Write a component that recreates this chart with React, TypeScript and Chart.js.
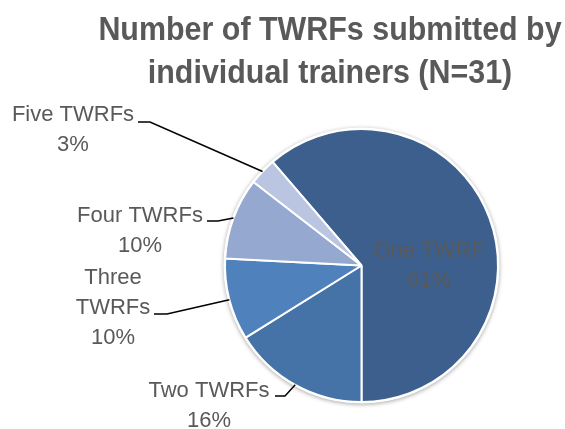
import React, { useEffect, useRef } from "react";
import { Chart, registerables } from "chart.js";

Chart.register(...registerables);

// ---- data ----
const categories = ["One TWRF", "Two TWRFs", "Three TWRFs", "Four TWRFs", "Five TWRFs"];
const counts = [19, 5, 3, 3, 1];
const titleLines = ["Number of TWRFs submitted by", "individual trainers (N=31)"];

// ---- style ----
const sliceColors = ["#3C5F8D", "#4572A7", "#4F81BD", "#95A8D0", "#B9C5E1"];
const textColor = "#595959";

// label layout (text lines, centre x, first baseline, leader start/elbow)
const labelLayout = [
  { lines: ["One TWRF"], cx: 429, y: 257, leader: null },
  { lines: ["Two TWRFs"], cx: 209, y: 397, leader: [[275, 396], [285, 396]] },
  { lines: ["Three", "TWRFs"], cx: 113, y: 284, leader: [[154, 314], [167, 314]] },
  { lines: ["Four TWRFs"], cx: 140, y: 222, leader: [[207, 221], [218, 221]] },
  { lines: ["Five TWRFs"], cx: 73, y: 121, leader: [[138, 122], [150, 122]] },
];

const total = counts.reduce((a, b) => a + b, 0);
const percents = counts.map((v) => Math.round((v / total) * 100) + "%");

const labelsPlugin = {
  id: "pieLabels",
  beforeDatasetsDraw(chart: any) {
    const meta = chart.getDatasetMeta(0);
    const a = meta.data[0];
    if (!a) return;
    const { x, y, outerRadius } = a.getProps(["x", "y", "outerRadius"], true);
    const ctx = chart.ctx;
    ctx.save();
    ctx.shadowColor = "rgba(0,0,0,0.35)";
    ctx.shadowBlur = 4;
    ctx.shadowOffsetX = 0;
    ctx.shadowOffsetY = 1;
    ctx.fillStyle = "#ffffff";
    ctx.beginPath();
    ctx.arc(x, y, outerRadius + 1.5, 0, Math.PI * 2);
    ctx.fill();
    ctx.restore();
  },
  afterDatasetsDraw(chart: any) {
    const ctx = chart.ctx;
    const meta = chart.getDatasetMeta(0);
    ctx.save();
    meta.data.forEach((arc: any, i: number) => {
      const p = arc.getProps(["x", "y", "startAngle", "endAngle", "outerRadius"], true);
      const mid = (p.startAngle + p.endAngle) / 2;
      const ex = p.x + Math.cos(mid) * p.outerRadius;
      const ey = p.y + Math.sin(mid) * p.outerRadius;
      const lay = labelLayout[i];
      if (lay.leader) {
        ctx.strokeStyle = "#000000";
        ctx.lineWidth = 1.5;
        ctx.beginPath();
        ctx.moveTo(lay.leader[0][0], lay.leader[0][1]);
        ctx.lineTo(lay.leader[1][0], lay.leader[1][1]);
        ctx.lineTo(ex, ey);
        ctx.stroke();
      }
      ctx.fillStyle = textColor;
      ctx.font = '22px "Liberation Sans", Arial, sans-serif';
      ctx.textAlign = "center";
      ctx.textBaseline = "alphabetic";
      const lines = [...lay.lines, percents[i]];
      lines.forEach((t, k) => {
        ctx.fillText(t, lay.cx, lay.y + k * 30);
      });
    });
    ctx.restore();
  },
  afterDraw(chart: any) {
    const ctx = chart.ctx;
    ctx.save();
    ctx.fillStyle = textColor;
    ctx.font = 'bold 34px "Liberation Sans", Arial, sans-serif';
    ctx.textAlign = "center";
    ctx.textBaseline = "alphabetic";
    const baselines = [40, 83];
    titleLines.forEach((t, k) => {
      ctx.save();
      ctx.translate(330, baselines[k]);
      ctx.scale(0.895, 1);
      ctx.fillText(t, 0, 0);
      ctx.restore();
    });
    ctx.restore();
  },
};

export default function App() {
  const ref = useRef<HTMLCanvasElement | null>(null);
  useEffect(() => {
    document.body.style.margin = "0";
    if (!ref.current) return;
    const chart = new Chart(ref.current, {
      type: "pie",
      data: {
        labels: categories,
        datasets: [
          {
            data: counts,
            backgroundColor: sliceColors,
            borderColor: "#ffffff",
            borderWidth: 2,
          },
        ],
      },
      options: {
        responsive: false,
        animation: false,
        devicePixelRatio: 1,
        rotation: 180 - (counts[0] / total) * 360,
        layout: { padding: { left: 224, right: 66, top: 128, bottom: 26 } },
        plugins: {
          legend: { display: false },
          tooltip: { enabled: false },
          title: { display: false },
        },
      },
      plugins: [labelsPlugin],
    });
    return () => chart.destroy();
  }, []);
  return (
    <div style={{ width: 565, height: 429 }}>
      <canvas ref={ref} width={565} height={429} style={{ display: "block" }} />
    </div>
  );
}
